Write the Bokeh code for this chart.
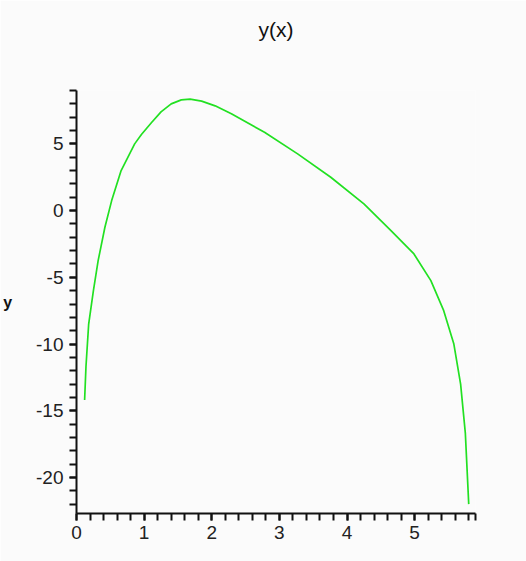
from bokeh.plotting import figure
from bokeh.models import Range1d, FixedTicker, Title
from bokeh.embed import file_html
from bokeh.resources import INLINE

# curve values
x_vals = [0.12, 0.14, 0.18, 0.25, 0.32, 0.42, 0.52, 0.66, 0.86, 0.96, 1.11, 1.25, 1.40,
          1.55, 1.68, 1.85, 2.05, 2.29, 2.78, 3.27, 3.76, 4.25, 4.65, 4.99, 5.24, 5.43,
          5.58, 5.68, 5.75, 5.80]
y_vals = [-14.2, -11.7, -8.5, -6.0, -3.75, -1.25, 0.75, 3.0, 5.0, 5.7, 6.6, 7.4, 8.0,
          8.3, 8.35, 8.2, 7.85, 7.25, 5.87, 4.25, 2.5, 0.5, -1.5, -3.25, -5.25, -7.5,
          -10.0, -13.0, -16.7, -22.0]

x_major = [0, 1, 2, 3, 4, 5]
x_minor = [round(i * 0.2, 1) for i in range(0, 30)] + [5.9]
y_major = [-20, -15, -10, -5, 0, 5]
y_minor = list(range(-22, 10))
y_tick_labels = {v: str(v) for v in y_major}
title_text = "y(x)"

BG = "#fbfbfb"
FONT = "Liberation Sans"

p = figure(width=526, height=561, output_backend="svg", toolbar_location=None, title=None,
           x_range=Range1d(0, 5.9), y_range=Range1d(-22.7, 9.0),
           min_border_left=75, min_border_right=51, min_border_top=90, min_border_bottom=48,
           background_fill_color=BG, border_fill_color=BG, outline_line_color=None)

# spacer panel next to the frame, then the real title above it
spacer = Title(text=" ", text_font=FONT, text_font_size="20px", standoff=24)
p.add_layout(spacer, "above")
main_title = Title(text=title_text, align="center", text_font=FONT, text_font_size="21px",
                   text_font_style="normal", text_color="#111111", offset=8, standoff=4)
p.add_layout(main_title, "above")

p.xgrid.visible = False
p.ygrid.visible = False

for ax in (p.xaxis[0], p.yaxis[0]):
    ax.axis_line_width = 2
    ax.axis_line_color = "#111111"
    ax.major_tick_line_width = 2
    ax.minor_tick_line_width = 2
    ax.major_tick_line_color = "#111111"
    ax.minor_tick_line_color = "#111111"
    ax.major_tick_in = 0
    ax.minor_tick_in = 0
    ax.major_tick_out = 7
    ax.minor_tick_out = 7
    ax.major_label_text_font = FONT
    ax.major_label_text_font_size = "19px"
    ax.major_label_text_color = "#222222"

p.xaxis[0].ticker = FixedTicker(ticks=x_major, minor_ticks=x_minor)
p.yaxis[0].ticker = FixedTicker(ticks=y_major, minor_ticks=y_minor)
p.yaxis[0].major_label_overrides = y_tick_labels
p.xaxis[0].major_label_standoff = 5
p.yaxis[0].major_label_standoff = 6

p.yaxis[0].axis_label = "y"
p.yaxis[0].axis_label_orientation = "horizontal"
p.yaxis[0].axis_label_text_font = FONT
p.yaxis[0].axis_label_text_font_size = "16px"
p.yaxis[0].axis_label_text_font_style = "bold"
p.yaxis[0].axis_label_text_color = "#111111"
p.yaxis[0].axis_label_standoff = 21

p.line(x_vals, y_vals, line_color="#22e022", line_width=1.7)

open("out.html", "w").write(file_html(p, INLINE))
